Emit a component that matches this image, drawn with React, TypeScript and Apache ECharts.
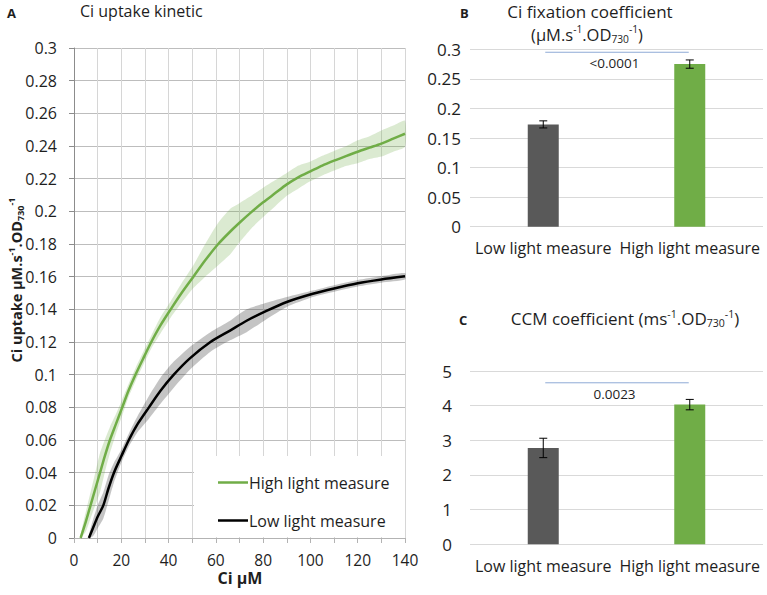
import React, { useEffect, useRef } from 'react';
import * as echarts from 'echarts';

const FONT = '"Open Sans", "Noto Sans", sans-serif';
const TXT = '#1e1e1e';
const GREEN = '#70ad47';
const DARK = '#595959';

// Panel A: Ci uptake kinetic
const highX = [2.8, 5, 7, 9, 11, 13, 15.2, 17.8, 20.4, 23, 26, 29.3, 32.7, 36.5, 40.9, 45.5, 50.5, 55.5, 61, 66, 70, 75, 80, 85, 90, 95, 100, 105, 110, 115, 120, 125, 130, 135, 140];
const highY = [0, 0.01, 0.02, 0.03, 0.04, 0.05, 0.06, 0.07, 0.08, 0.09, 0.1, 0.11, 0.12, 0.13, 0.14, 0.15, 0.16, 0.17, 0.18, 0.1875, 0.193, 0.1995, 0.2055, 0.211, 0.2165, 0.221, 0.2245, 0.228, 0.231, 0.2338, 0.2365, 0.239, 0.2415, 0.2445, 0.2475];
const highErr = [0.002, 0.006, 0.008, 0.01, 0.012, 0.01, 0.008, 0.006, 0.005, 0.004, 0.004, 0.004, 0.004, 0.005, 0.005, 0.006, 0.007, 0.01, 0.013, 0.014, 0.012, 0.01, 0.009, 0.008, 0.007, 0.007, 0.006, 0.006, 0.006, 0.006, 0.007, 0.007, 0.008, 0.008, 0.008];

const lowX = [6.3, 8, 10, 12.4, 14.5, 16.9, 20, 23.2, 27, 31.7, 36.5, 42.2, 49, 57.7, 66, 73, 81.4, 90, 101, 110, 120, 130, 140];
const lowY = [0, 0.006, 0.013, 0.02, 0.03, 0.04, 0.05, 0.06, 0.07, 0.08, 0.09, 0.1, 0.11, 0.12, 0.127, 0.133, 0.139, 0.1445, 0.1495, 0.1528, 0.156, 0.1583, 0.1602];
const lowErr = [0.002, 0.005, 0.007, 0.008, 0.008, 0.006, 0.004, 0.004, 0.005, 0.007, 0.008, 0.008, 0.007, 0.006, 0.006, 0.007, 0.005, 0.003, 0.002, 0.002, 0.002, 0.002, 0.002];

// Panels B and C
const categories = ['Low light measure', 'High light measure'];
const fixVals = [0.173, 0.275];
const fixErr = [0.006, 0.007];
const fixSigY = 0.295;
const fixP = '<0.0001';
const ccmVals = [2.78, 4.03];
const ccmErr = [0.28, 0.15];
const ccmSigY = 4.66;
const ccmP = '0.0023';

function bandSeries(xs: number[], ys: number[], es: number[], fill: string) {
  return {
    type: 'custom',
    xAxisIndex: 0,
    yAxisIndex: 0,
    silent: true,
    z: 1,
    data: [[xs[0], ys[0]]],
    renderItem: (_p: any, api: any) => {
      const upper = xs.map((x, i) => api.coord([x, ys[i] + es[i]]));
      const lower = xs.map((x, i) => api.coord([x, Math.max(0, ys[i] - es[i])])).reverse();
      return { type: 'polygon', shape: { points: upper.concat(lower), smooth: 0.2 }, style: { fill } };
    },
  };
}

function errSeries(gi: number, vals: number[], errs: number[]) {
  return {
    type: 'custom',
    xAxisIndex: gi,
    yAxisIndex: gi,
    z: 5,
    silent: true,
    data: vals.map((v, i) => [i, v, errs[i]]),
    renderItem: (_p: any, api: any) => {
      const i = api.value(0);
      const v = api.value(1);
      const e = api.value(2);
      const t = api.coord([i, v + e]);
      const b = api.coord([i, v - e]);
      const w = 4;
      const st = { stroke: '#000', lineWidth: 1 };
      return {
        type: 'group',
        children: [
          { type: 'line', shape: { x1: t[0], y1: t[1], x2: b[0], y2: b[1] }, style: st },
          { type: 'line', shape: { x1: t[0] - w, y1: t[1], x2: t[0] + w, y2: t[1] }, style: st },
          { type: 'line', shape: { x1: b[0] - w, y1: b[1], x2: b[0] + w, y2: b[1] }, style: st },
        ],
      };
    },
  };
}

function sigSeries(gi: number, y: number, label: string) {
  return {
    type: 'custom',
    xAxisIndex: gi,
    yAxisIndex: gi,
    z: 5,
    silent: true,
    data: [[0, y]],
    renderItem: (_p: any, api: any) => {
      const yv = api.value(1);
      const a = api.coord([0, yv]);
      const b = api.coord([1, yv]);
      return {
        type: 'group',
        children: [
          { type: 'line', shape: { x1: a[0] + 2, y1: a[1], x2: b[0] - 1, y2: b[1] }, style: { stroke: '#8fabd6', lineWidth: 1 } },
          {
            type: 'text',
            x: (a[0] + b[0]) / 2 - 2,
            y: a[1] + 11,
            style: { text: label, fontSize: 13.5, fontFamily: FONT, fill: TXT, align: 'center', verticalAlign: 'middle' },
          },
        ],
      };
    },
  };
}

const richBase = (size: number, weight: string) => ({
  m: { fontSize: size, fontWeight: weight, fontFamily: FONT, fill: TXT, lineHeight: size + 3 },
  sup: { fontSize: size * 0.62, fontWeight: weight, fontFamily: FONT, fill: TXT, verticalAlign: 'top', lineHeight: size * 0.66 },
  sub: { fontSize: size * 0.62, fontWeight: weight, fontFamily: FONT, fill: TXT, verticalAlign: 'bottom', lineHeight: size * 0.66 },
});

export default function App() {
  const ref = useRef<HTMLDivElement>(null);
  useEffect(() => {
    document.body.style.margin = '0';
    const chart = echarts.init(ref.current!, null, { renderer: 'svg' });
    const barAxisLabel = { fontSize: 16, fontFamily: FONT, color: TXT, margin: 13, interval: 0 };
    const option: any = {
      animation: false,
      backgroundColor: '#fff',
      grid: [
        { left: 74, top: 48, width: 331, height: 490 },
        { left: 470, top: 49.3, width: 293, height: 177.4 },
        { left: 470, top: 371, width: 293, height: 173.3 },
      ],
      xAxis: [
        {
          type: 'value', gridIndex: 0, min: 0, max: 140, interval: 20,
          axisLine: { show: true, lineStyle: { color: '#b3b3b3' } },
          axisTick: { show: true, length: 5, lineStyle: { color: '#b3b3b3' } },
          minorTick: { show: true, splitNumber: 2, length: 5, lineStyle: { color: '#b3b3b3' } },
          splitLine: { show: true, lineStyle: { color: '#d6d6d6' } },
          minorSplitLine: { show: true, lineStyle: { color: '#d6d6d6' } },
          axisLabel: { fontSize: 15.5, fontFamily: FONT, color: TXT, margin: 14 },
        },
        {
          type: 'category', gridIndex: 1, data: categories,
          axisLine: { show: false }, axisTick: { show: false }, axisLabel: barAxisLabel,
        },
        {
          type: 'category', gridIndex: 2, data: categories,
          axisLine: { show: false }, axisTick: { show: false }, axisLabel: { ...barAxisLabel, margin: 14 },
        },
      ],
      yAxis: [
        {
          type: 'value', gridIndex: 0, min: 0, max: 0.3, interval: 0.02,
          axisLine: { show: true, lineStyle: { color: '#8c8c8c' } },
          axisTick: { show: true, length: 5, lineStyle: { color: '#8c8c8c' } },
          splitLine: { show: true, lineStyle: { color: '#bdbdbd' } },
          axisLabel: { fontSize: 16, fontFamily: FONT, color: TXT, margin: 17, formatter: (v: number) => String(parseFloat(v.toFixed(2))) },
        },
        {
          type: 'value', gridIndex: 1, min: 0, max: 0.3, interval: 0.05,
          axisLine: { show: false }, axisTick: { show: false },
          splitLine: { show: true, lineStyle: { color: '#d9d9d9' } },
          axisLabel: { fontSize: 17, fontFamily: FONT, color: TXT, margin: 9, formatter: (v: number) => String(parseFloat(v.toFixed(2))) },
        },
        {
          type: 'value', gridIndex: 2, min: 0, max: 5, interval: 1,
          axisLine: { show: false }, axisTick: { show: false },
          splitLine: { show: true, lineStyle: { color: '#d9d9d9' } },
          axisLabel: { fontSize: 17, fontFamily: FONT, color: TXT, margin: 18 },
        },
      ],
      legend: {
        left: 213, top: 467, orient: 'vertical', itemGap: 17, itemWidth: 30, itemHeight: 2.5, z: 10,
        icon: 'rect',
        data: ['High light measure', 'Low light measure'],
        textStyle: { fontSize: 16, fontFamily: FONT, color: TXT, padding: [0, 0, 0, -4], lineHeight: 21 },
      },
      graphic: [
        { type: 'rect', z: 3, silent: true, shape: { x: 194, y: 456, width: 211, height: 81 }, style: { fill: '#fff' } },
        { type: 'text', z: 10, x: 7, y: 13, style: { text: 'A', fontSize: 13, fontWeight: 'bold', fontFamily: FONT, fill: TXT, verticalAlign: 'middle' } },
        { type: 'text', z: 10, x: 80, y: 11, style: { text: 'Ci uptake kinetic', fontSize: 16, fontFamily: FONT, fill: TXT, verticalAlign: 'middle' } },
        { type: 'text', z: 10, x: 460, y: 13, style: { text: 'B', fontSize: 13, fontWeight: 'bold', fontFamily: FONT, fill: TXT, verticalAlign: 'middle' } },
        { type: 'text', z: 10, x: 590, y: 11, style: { text: 'Ci fixation coefficient', fontSize: 17, fontFamily: FONT, fill: TXT, align: 'center', verticalAlign: 'middle' } },
        {
          type: 'text', z: 10, x: 587, y: 34,
          style: { text: '{m|(µM.s}{sup|-1}{m|.OD}{sub|730}{sup|-1}{m|)}', rich: richBase(16.5, 'normal'), align: 'center', verticalAlign: 'middle' },
        },
        { type: 'text', z: 10, x: 459, y: 320, style: { text: 'C', fontSize: 13, fontWeight: 'bold', fontFamily: FONT, fill: TXT, verticalAlign: 'middle' } },
        {
          type: 'text', z: 10, x: 625, y: 318,
          style: { text: '{m|CCM coefficient (ms}{sup|-1}{m|.OD}{sub|730}{sup|-1}{m|)}', rich: richBase(17, 'normal'), align: 'center', verticalAlign: 'middle' },
        },
        {
          type: 'text', z: 10, x: 16, y: 280, rotation: Math.PI / 2,
          style: { text: '{m|Ci uptake µM.s}{sup|-1}{m|.OD}{sub|730}{sup|-1}', rich: richBase(14.5, 'bold'), align: 'center', verticalAlign: 'middle' },
        },
        { type: 'text', z: 10, x: 240, y: 578, style: { text: 'Ci µM', fontSize: 16, fontWeight: 'bold', fontFamily: FONT, fill: TXT, align: 'center', verticalAlign: 'middle' } },
      ],
      series: [
        bandSeries(highX, highY, highErr, 'rgba(112,173,71,0.25)'),
        bandSeries(lowX, lowY, lowErr, 'rgba(60,60,60,0.3)'),
        {
          name: 'High light measure', type: 'line', xAxisIndex: 0, yAxisIndex: 0, z: 3,
          data: highX.map((x, i) => [x, highY[i]]), symbol: 'none', smooth: 0.25,
          lineStyle: { color: GREEN, width: 2.5 }, itemStyle: { color: GREEN },
        },
        {
          name: 'Low light measure', type: 'line', xAxisIndex: 0, yAxisIndex: 0, z: 3,
          data: lowX.map((x, i) => [x, lowY[i]]), symbol: 'none', smooth: 0.25,
          lineStyle: { color: '#000', width: 2.5 }, itemStyle: { color: '#000' },
        },
        {
          type: 'bar', xAxisIndex: 1, yAxisIndex: 1, barWidth: 31,
          data: fixVals.map((v, i) => ({ value: v, itemStyle: { color: i === 0 ? DARK : GREEN } })),
        },
        errSeries(1, fixVals, fixErr),
        sigSeries(1, fixSigY, fixP),
        {
          type: 'bar', xAxisIndex: 2, yAxisIndex: 2, barWidth: 31,
          data: ccmVals.map((v, i) => ({ value: v, itemStyle: { color: i === 0 ? DARK : GREEN } })),
        },
        errSeries(2, ccmVals, ccmErr),
        sigSeries(2, ccmSigY, ccmP),
      ],
    };
    chart.setOption(option);
    return () => chart.dispose();
  }, []);
  return <div ref={ref} style={{ width: 767, height: 595 }} />;
}
